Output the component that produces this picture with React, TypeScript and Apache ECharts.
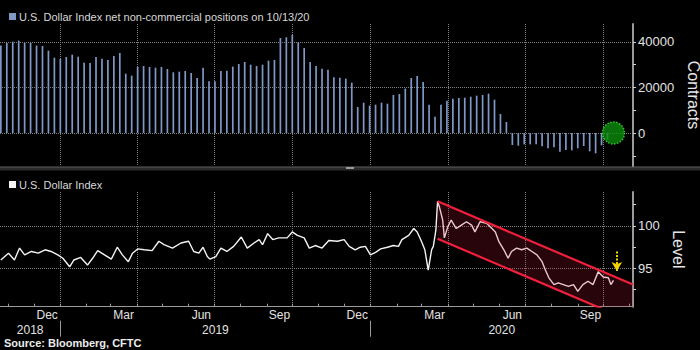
import React, { useEffect, useRef } from 'react';
import * as echarts from 'echarts';

// ---- axis range ----
const AXIS_START = '2018-10-22';
const AXIS_END = '2020-11-05';

// ---- weekly CFTC net non-commercial positions (contracts), first report date ----
const POSITIONS_NAME = 'U.S. Dollar Index net non-commercial positions on 10/13/20';
const BAR_START = '2018-10-23';
const netPositions = [
  38400, 39560, 40150, 40600, 39560, 39560, 38400, 38240, 36200, 33100,
  32530, 33400, 34430, 33550, 30920, 30770, 33400, 32680, 32090, 33850,
  35160, 26080, 25200, 29010, 29450, 29010, 28720, 29010, 28130, 26670,
  26960, 27250, 26370, 24180, 28720, 22710, 22710, 27250, 27400, 29160,
  30330, 31210, 30040, 29450, 30040, 31800, 32090, 41760, 42050, 43080,
  39850, 37360, 31210, 29450, 28280, 27840, 24470, 24330, 23890, 22130,
  11430, 13330, 12020, 12460, 13330, 12900, 16700, 17140, 19490, 24180,
  25050, 22420, 12460, 7180, 12460, 14210, 15090, 15380, 15530, 15970,
  16410, 16700, 17290, 14650, 8350, 4840, -5270, -5570, -4990, -4990,
  -4990, -5860, -6740, -6300, -8210, -7470, -7620, -6740, -5710, -8060,
  -8940, -5420, -2900,
];

// ---- U.S. Dollar Index ----
const DXY_NAME = 'U.S. Dollar Index';
const dxyDates = [
  '2018-10-23', '2018-11-01', '2018-11-08', '2018-11-14', '2018-11-20', '2018-11-28', '2018-12-06', '2018-12-14',
  '2018-12-21', '2018-12-29', '2019-01-04', '2019-01-12', '2019-01-17', '2019-01-25', '2019-02-02', '2019-02-08',
  '2019-02-14', '2019-02-22', '2019-03-02', '2019-03-09', '2019-03-15', '2019-03-22', '2019-03-27', '2019-04-02',
  '2019-04-10', '2019-04-19', '2019-04-27', '2019-05-03', '2019-05-13', '2019-05-23', '2019-06-01', '2019-06-07',
  '2019-06-13', '2019-06-18', '2019-06-23', '2019-06-26', '2019-07-03', '2019-07-09', '2019-07-16', '2019-07-24',
  '2019-08-02', '2019-08-09', '2019-08-17', '2019-08-23', '2019-08-27', '2019-09-02', '2019-09-08', '2019-09-15',
  '2019-09-25', '2019-10-01', '2019-10-07', '2019-10-15', '2019-10-21', '2019-10-28', '2019-11-05', '2019-11-13',
  '2019-11-23', '2019-12-01', '2019-12-07', '2019-12-14', '2019-12-20', '2019-12-26', '2020-01-01', '2020-01-07',
  '2020-01-13', '2020-01-21', '2020-01-28', '2020-02-03', '2020-02-07', '2020-02-15', '2020-02-21', '2020-02-25',
  '2020-03-01', '2020-03-05', '2020-03-09', '2020-03-13', '2020-03-15', '2020-03-18', '2020-03-20', '2020-03-22',
  '2020-03-26', '2020-03-28', '2020-04-01', '2020-04-05', '2020-04-11', '2020-04-17', '2020-04-23', '2020-04-29',
  '2020-05-03', '2020-05-09', '2020-05-17', '2020-05-23', '2020-05-27', '2020-05-31', '2020-06-06', '2020-06-11',
  '2020-06-15', '2020-06-21', '2020-06-27', '2020-07-03', '2020-07-09', '2020-07-15', '2020-07-21', '2020-07-25',
  '2020-07-29', '2020-08-04', '2020-08-09', '2020-08-15', '2020-08-21', '2020-08-27', '2020-09-01', '2020-09-07',
  '2020-09-13', '2020-09-19', '2020-09-25', '2020-10-01', '2020-10-07', '2020-10-10', '2020-10-13',
];
const dxyValues = [
  96.0, 96.8, 96.0, 97.4, 96.6, 97.0, 96.8, 97.2,
  97.0, 96.6, 96.2, 95.2, 96.0, 96.3, 95.4, 96.2,
  97.1, 96.6, 96.1, 97.5, 96.6, 95.8, 96.8, 97.3,
  97.2, 97.1, 98.2, 97.8, 97.4, 98.0, 98.2, 97.0,
  96.8, 97.5, 96.4, 96.1, 96.4, 97.4, 97.0, 97.6,
  98.7, 97.4, 98.0, 98.4, 97.8, 99.1, 98.4, 98.6,
  98.6, 99.3, 98.9, 98.6, 97.4, 97.7, 97.4, 98.3,
  98.2, 98.4, 97.6, 97.2, 97.5, 97.6, 96.6, 96.9,
  97.3, 97.5, 97.7, 97.6, 98.4, 98.9, 99.7, 99.3,
  98.2, 97.2, 94.8, 97.2, 97.6, 99.5, 102.9, 102.3,
  100.7, 98.6, 99.9, 100.7, 99.7, 100.1, 100.5, 100.1,
  99.3, 100.5, 100.3, 99.7, 99.3, 98.2, 97.2, 96.2,
  97.0, 97.4, 97.2, 97.4, 97.0, 96.6, 95.8, 94.8,
  93.9, 93.1, 93.3, 93.1, 92.9, 93.1, 92.3, 93.1,
  93.5, 93.1, 94.6, 94.0, 93.9, 93.1, 93.6,
];

// ---- annotations ----
const channelDates = ['2020-03-20', '2020-11-05'];
const channelUpper = [102.9, 93.1];
const channelLower = [98.5, 88.7];
const highlightDate = '2020-10-13';
const highlightValue = 0;
const arrowDate = '2020-10-17';
const arrowFrom = 97.0;
const arrowTo = 94.7;

// ---- axes ----
const contractRange = [-14500, 47900];
const levelRange = [90.5, 104];
const contractTicks = [-10000, 0, 10000, 20000, 30000, 40000];
const contractLabels = [0, 20000, 40000];
const levelTicks = [92.5, 95, 97.5, 100, 102.5];
const levelLabels = [95, 100];
const monthLabels = ['2018-12', '2019-03', '2019-06', '2019-09', '2019-12', '2020-03', '2020-06', '2020-09'];
const quarterLines = ['2019-01', '2019-04', '2019-07', '2019-10', '2020-01', '2020-04', '2020-07', '2020-10'];
const yearLabels = [2018, 2019, 2020];

const MONTHS = ['Jan', 'Feb', 'Mar', 'Apr', 'May', 'Jun', 'Jul', 'Aug', 'Sep', 'Oct', 'Nov', 'Dec'];
const FONT = '"Liberation Sans", Arial, sans-serif';
const DAY = 86400000;

const ts = (s: string) => {
  const p = s.split('-').map(Number);
  return Date.UTC(p[0], p[1] - 1, p[2] || 1);
};

export default function App() {
  const ref = useRef<HTMLDivElement>(null);

  useEffect(() => {
    if (!ref.current) return;
    const chart = echarts.init(ref.current, null, { renderer: 'svg' });

    const xMin = ts(AXIS_START);
    const xMax = ts(AXIS_END);
    const barStart = ts(BAR_START);
    const barData = netPositions.map((v, i) => [barStart + i * 7 * DAY, v]);
    const dxyData = dxyDates.map((d, i) => [ts(d), dxyValues[i]]);

    const monthStarts: number[] = [];
    {
      const s = new Date(xMin);
      let y = s.getUTCFullYear();
      let m = s.getUTCMonth() + 1;
      while (true) {
        if (m > 11) { m = 0; y += 1; }
        const t = Date.UTC(y, m, 1);
        if (t > xMax) break;
        monthStarts.push(t);
        m += 1;
      }
    }
    const midMonths = monthLabels.map((s) => {
      const a = ts(s);
      const d = new Date(a);
      const b = Date.UTC(d.getUTCFullYear(), d.getUTCMonth() + 1, 1);
      return (a + b) / 2;
    });
    const yearBounds = yearLabels.slice(1).map((y) => Date.UTC(y, 0, 1));
    const yearCenters = yearLabels.map((y) => {
      const a = Math.max(xMin, Date.UTC(y, 0, 1));
      const b = Math.min(xMax, Date.UTC(y + 1, 0, 1));
      return (a + b) / 2;
    });
    const quarterTs = quarterLines.map((q) => ts(q));

    const chDates = channelDates.map(ts);
    const upperData = chDates.map((d, i) => [d, channelUpper[i]]);
    const lowerData = chDates.map((d, i) => [d, channelLower[i]]);
    const bandData = chDates.map((d, i) => [d, channelUpper[i], channelLower[i]]);

    const labelColor = '#e2e2e2';
    const red = '#f0203c';
    const gridSplit = { show: true, lineStyle: { color: '#808080', width: 1, type: 'dotted' } };

    // hidden axes that only carry the dotted grid lines
    const gridXAxis = (gridIndex: number) => ({
      type: 'value', gridIndex, min: xMin, max: xMax,
      axisLine: { show: false }, axisLabel: { show: false },
      axisTick: { show: false, customValues: quarterTs },
      splitLine: gridSplit,
    });
    const gridYAxis = (gridIndex: number, range: number[], vals: number[]) => ({
      type: 'value', gridIndex, position: 'right', min: range[0], max: range[1],
      axisLine: { show: false }, axisLabel: { show: false },
      axisTick: { show: false, customValues: vals },
      splitLine: gridSplit,
    });

    const option: any = {
      animation: false,
      backgroundColor: '#000',
      textStyle: { fontFamily: FONT },
      legend: [
        {
          data: [POSITIONS_NAME],
          left: 4, top: 6, icon: 'rect', itemWidth: 7, itemHeight: 7, itemGap: 4,
          textStyle: { color: '#d8d8d8', fontSize: 11, fontFamily: FONT, padding: [0, 0, 0, -2] },
          selectedMode: false,
        },
        {
          data: [DXY_NAME],
          left: 4, top: 174, icon: 'rect', itemWidth: 7, itemHeight: 7,
          textStyle: { color: '#d8d8d8', fontSize: 11, fontFamily: FONT, padding: [0, 0, 0, -2] },
          selectedMode: false,
        },
      ],
      grid: [
        { left: 0, right: 67, top: 24, height: 142, containLabel: false, outerBoundsMode: 'none' },
        { left: 0, right: 67, top: 192, height: 114.7, containLabel: false, outerBoundsMode: 'none' },
      ],
      xAxis: [
        {
          type: 'value', gridIndex: 0, min: xMin, max: xMax,
          axisLine: { show: false }, axisTick: { show: false }, axisLabel: { show: false }, splitLine: { show: false },
        },
        {
          type: 'value', gridIndex: 1, min: xMin, max: xMax,
          axisLine: { show: true, lineStyle: { color: '#9a9a9a', width: 1 } },
          axisTick: { show: true, customValues: monthStarts, inside: true, length: 3, lineStyle: { color: '#9a9a9a' } },
          axisLabel: {
            show: true, customValues: midMonths, margin: 2, color: labelColor, fontSize: 12, fontFamily: FONT,
            formatter: (v: number) => MONTHS[new Date(v).getUTCMonth()],
          },
          splitLine: { show: false },
        },
        {
          type: 'value', gridIndex: 1, min: xMin, max: xMax, position: 'bottom', offset: 14,
          axisLine: { show: false },
          axisTick: { show: true, customValues: yearBounds, inside: false, length: 16, lineStyle: { color: '#9a9a9a' } },
          axisLabel: {
            show: true, customValues: yearCenters, margin: 3, color: labelColor, fontSize: 12, fontFamily: FONT,
            formatter: (v: number) => String(new Date(v).getUTCFullYear()),
          },
          splitLine: { show: false },
        },
        gridXAxis(0),
        gridXAxis(1),
      ],
      yAxis: [
        {
          type: 'value', gridIndex: 0, position: 'right', min: contractRange[0], max: contractRange[1],
          axisLine: { show: true, lineStyle: { color: '#9a9a9a', width: 2 } },
          axisTick: { show: true, customValues: contractTicks, length: 3, lineStyle: { color: '#cfcfcf' } },
          axisLabel: {
            show: true, customValues: contractLabels, margin: 5, color: labelColor, fontSize: 13, fontFamily: FONT,
            formatter: (v: number) => String(v),
          },
          splitLine: { show: false },
          name: 'Contracts', nameLocation: 'middle', nameRotate: -90, nameGap: 37,
          nameTextStyle: { color: '#e6e6e6', fontSize: 16, fontFamily: FONT },
        },
        {
          type: 'value', gridIndex: 1, position: 'right', min: levelRange[0], max: levelRange[1],
          axisLine: { show: true, lineStyle: { color: '#9a9a9a', width: 2 } },
          axisTick: { show: true, customValues: levelTicks, length: 3, lineStyle: { color: '#cfcfcf' } },
          axisLabel: {
            show: true, customValues: levelLabels, margin: 5, color: labelColor, fontSize: 13, fontFamily: FONT,
            formatter: (v: number) => String(v),
          },
          splitLine: { show: false },
          name: 'Level', nameLocation: 'middle', nameRotate: -90, nameGap: 37,
          nameTextStyle: { color: '#e6e6e6', fontSize: 16, fontFamily: FONT },
        },
        gridYAxis(0, contractRange, contractLabels),
        gridYAxis(1, levelRange, levelLabels),
      ],
      series: [
        {
          name: POSITIONS_NAME, type: 'bar', xAxisIndex: 0, yAxisIndex: 0,
          data: barData, barWidth: 1.7, itemStyle: { color: '#7f98c6' }, z: 3,
        },
        {
          name: 'highlight', type: 'scatter', xAxisIndex: 0, yAxisIndex: 0,
          data: [[ts(highlightDate), highlightValue]], symbolSize: 22, z: 5,
          itemStyle: { color: '#0c8c0c', borderColor: '#3ae83a', borderWidth: 1.5, borderType: 'dotted' },
        },
        {
          name: DXY_NAME, type: 'line', xAxisIndex: 1, yAxisIndex: 1,
          data: dxyData, showSymbol: false, symbol: 'none',
          lineStyle: { color: '#f4f4f4', width: 1.4 }, itemStyle: { color: '#f4f4f4' }, z: 2,
        },
        {
          name: 'channelBand', type: 'custom', xAxisIndex: 1, yAxisIndex: 1, clip: true, z: 3,
          data: bandData, encode: { x: 0, y: [1, 2] }, silent: true,
          renderItem: (params: any, api: any) => {
            if (params.dataIndex !== 0) return null;
            const pts = [
              api.coord(upperData[0]), api.coord(upperData[1]),
              api.coord(lowerData[1]), api.coord(lowerData[0]),
            ];
            return {
              type: 'polygon',
              shape: { points: pts },
              style: { fill: 'rgba(200,25,50,0.2)', stroke: 'none' },
            };
          },
        },
        {
          name: 'channelUpper', type: 'line', xAxisIndex: 1, yAxisIndex: 1,
          data: upperData, symbol: 'none', showSymbol: false, silent: true,
          lineStyle: { color: red, width: 2.2 }, z: 4,
        },
        {
          name: 'channelLower', type: 'line', xAxisIndex: 1, yAxisIndex: 1,
          data: lowerData, symbol: 'none', showSymbol: false, silent: true,
          lineStyle: { color: red, width: 2.2 }, z: 4,
        },
        {
          name: 'arrow', type: 'line', xAxisIndex: 1, yAxisIndex: 1, data: [], z: 6,
          markLine: {
            silent: true, symbol: ['none', 'arrow'], symbolSize: [8, 9], label: { show: false }, animation: false,
            lineStyle: { color: '#f2d500', type: [2, 1.5] as any, width: 2 },
            data: [[{ coord: [ts(arrowDate), arrowFrom] }, { coord: [ts(arrowDate), arrowTo] }]],
          },
        },
      ],
      graphic: [
        { type: 'rect', shape: { x: 0, y: 166.5, width: 700, height: 4 }, style: { fill: '#2b2b2b' }, silent: true },
        { type: 'rect', shape: { x: 0, y: 166.5, width: 700, height: 1.2 }, style: { fill: '#4e4e4e' }, silent: true },
        { type: 'rect', shape: { x: 346, y: 167, width: 8, height: 2 }, style: { fill: '#9a9a9a' }, silent: true },
        {
          type: 'text', left: 4, top: 337, silent: true,
          style: { text: 'Source: Bloomberg, CFTC', fill: '#ececec', font: `bold 11px ${FONT}` },
        },
      ],
    };

    chart.setOption(option);
    return () => chart.dispose();
  }, []);

  return (
    <div
      ref={ref}
      style={{ position: 'fixed', left: 0, top: 0, width: 700, height: 350, background: '#000' }}
    />
  );
}
